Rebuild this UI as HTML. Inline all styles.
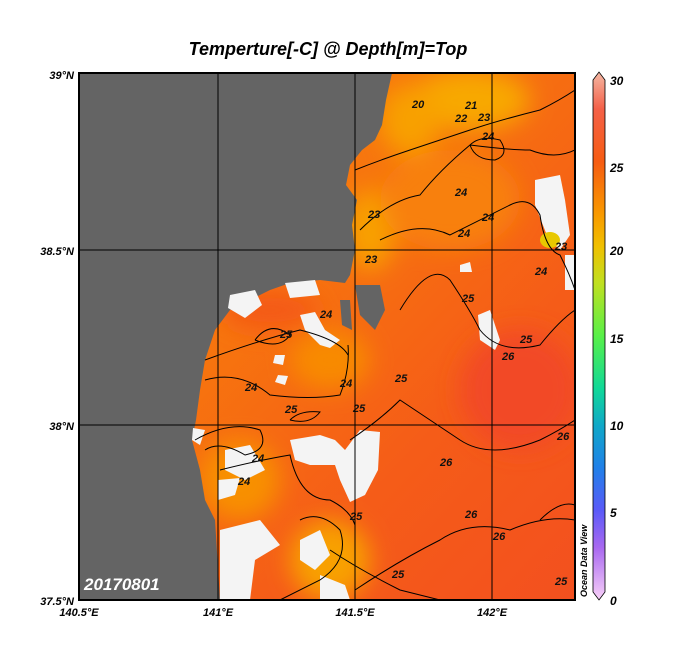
<!DOCTYPE html>
<html><head><meta charset="utf-8"><style>
body{margin:0;background:#fff;width:684px;height:660px;overflow:hidden}
svg text{font-family:"Liberation Sans",sans-serif;font-weight:bold;font-style:italic}
</style></head><body>
<svg width="684" height="660" viewBox="0 0 684 660" xmlns="http://www.w3.org/2000/svg">
<defs>
<linearGradient id="bg" x1="0" y1="0" x2="1" y2="1">
<stop offset="0" stop-color="#f98c08"/><stop offset="0.4" stop-color="#f7740e"/><stop offset="0.7" stop-color="#f55c18"/><stop offset="1" stop-color="#f3501f"/>
</linearGradient>
<linearGradient id="cb" x1="0" y1="0" x2="0" y2="1">
<stop offset="0" stop-color="#f4b8a4"/><stop offset="0.07" stop-color="#f46048"/><stop offset="0.17" stop-color="#f65c12"/><stop offset="0.27" stop-color="#f89a00"/><stop offset="0.33" stop-color="#f0c000"/><stop offset="0.4" stop-color="#c0e020"/><stop offset="0.5" stop-color="#58f048"/><stop offset="0.6" stop-color="#10d898"/><stop offset="0.67" stop-color="#10a8c8"/><stop offset="0.75" stop-color="#2080e8"/><stop offset="0.83" stop-color="#5a5af8"/><stop offset="0.9" stop-color="#a868f0"/><stop offset="1" stop-color="#f8d0f8"/>
</linearGradient>
<filter id="bl"><feGaussianBlur stdDeviation="12"/></filter>
<clipPath id="cp"><rect x="79" y="73" width="496" height="527"/></clipPath>
</defs>
<text x="328" y="55" font-size="18" text-anchor="middle">Temperture[-C] @ Depth[m]=Top</text>
<g clip-path="url(#cp)">
<rect x="79" y="73" width="496" height="527" fill="url(#bg)"/>
<g filter="url(#bl)">
<ellipse cx="470" cy="100" rx="60" ry="30" fill="#f8a800"/>
<ellipse cx="410" cy="120" rx="30" ry="35" fill="#f8a000"/>
<ellipse cx="370" cy="230" rx="25" ry="40" fill="#f8a000"/>
<ellipse cx="450" cy="200" rx="70" ry="50" fill="#f88010"/>
<ellipse cx="330" cy="360" rx="40" ry="30" fill="#f88a00"/>
<ellipse cx="240" cy="480" rx="40" ry="40" fill="#f89000"/>
<ellipse cx="330" cy="560" rx="40" ry="40" fill="#f8a000"/>
<ellipse cx="520" cy="390" rx="60" ry="60" fill="#f24a28"/>
<ellipse cx="270" cy="310" rx="50" ry="20" fill="#f45a18"/>
</g>
<path d="M79,73 L392,73 L386,100 L382,125 L375,140 L362,150 L350,165 L346,185 L357,200 L352,225 L355,250 L350,275 L345,283 L320,280 L290,283 L270,290 L250,300 L230,310 L215,330 L205,360 L200,390 L196,420 L192,440 L200,470 L205,500 L215,520 L220,600 L79,600 Z" fill="#646464"/>
<path d="M355,285 L380,285 L385,310 L375,330 L360,315 Z M340,300 L350,300 L352,330 L342,325 Z" fill="#646464"/>
<g fill="#f4f4f4">
<path d="M230,295 L255,290 L262,305 L245,318 L228,308 Z"/>
<path d="M285,283 L315,280 L320,295 L290,298 Z"/>
<path d="M300,315 L315,312 L325,330 L340,340 L330,348 L320,345 L305,330 Z"/>
<path d="M275,355 L285,355 L283,365 L273,363 Z M278,375 L288,376 L285,385 L275,382 Z"/>
<path d="M193,428 L205,430 L200,445 L192,440 Z"/>
<path d="M290,440 L320,435 L335,440 L345,450 L360,430 L380,432 L378,470 L365,495 L350,502 L340,480 L335,465 L310,465 L295,460 Z"/>
<path d="M225,450 L250,445 L265,470 L245,480 L225,470 Z"/>
<path d="M218,480 L240,478 L235,495 L218,500 Z"/>
<path d="M220,530 L260,520 L280,545 L255,560 L250,600 L220,600 Z"/>
<path d="M300,540 L320,530 L330,555 L315,570 L300,560 Z"/>
<path d="M320,575 L345,585 L350,600 L320,600 Z"/>
<path d="M460,265 L470,262 L472,272 L460,272 Z"/>
<path d="M478,315 L490,310 L500,340 L495,350 L480,340 Z"/>
<path d="M535,180 L560,175 L565,200 L570,235 L560,250 L548,238 L535,205 Z"/>
<path d="M565,255 L575,255 L575,290 L565,290 Z"/>
</g>
<ellipse cx="550" cy="240" rx="10" ry="8" fill="#e8c800"/>
<g fill="none" stroke="#000" stroke-width="1">
<path d="M355,170 Q380,160 410,150 Q440,140 470,130 Q500,120 540,110 Q560,100 575,90"/>
<path d="M360,230 Q390,200 420,195 Q440,170 470,145 Q510,150 530,150 Q555,160 575,150"/>
<path d="M470,145 Q480,135 500,140 Q510,155 495,160 Q475,160 470,145"/>
<path d="M380,240 Q420,220 450,235 Q480,220 510,205 Q530,195 540,215 Q545,250 560,255 Q570,275 575,290"/>
<path d="M400,310 Q430,260 450,280 Q470,310 480,330 Q500,355 540,345 Q560,320 575,310"/>
<path d="M350,440 Q380,420 400,400 Q430,420 460,440 Q490,460 540,440 Q560,430 575,420"/>
<path d="M355,590 Q400,560 440,540 Q470,520 510,530 Q545,515 575,520"/>
<path d="M205,380 Q240,370 270,395 Q310,400 340,395 Q350,370 348,345"/>
<path d="M205,360 Q260,340 300,330 Q340,340 348,355"/>
<path d="M290,420 Q300,410 320,412 Q310,425 290,420"/>
<path d="M195,440 Q230,420 260,430 Q270,450 245,455 Q220,440 205,450"/>
<path d="M220,470 Q260,460 290,455 Q300,500 330,500 Q350,510 355,525"/>
<path d="M300,520 Q320,510 340,530 Q350,560 320,580 Q300,590 280,600"/>
<path d="M330,550 Q360,570 400,590 Q420,595 440,600"/>
<path d="M255,340 Q270,320 290,335 Q280,350 255,340"/>
<path d="M540,520 Q560,500 575,505"/>
</g>
<g font-size="11" fill="#111">
<text x="412" y="108">20</text><text x="465" y="109">21</text><text x="455" y="122">22</text><text x="478" y="121">23</text><text x="482" y="140">24</text>
<text x="368" y="218">23</text><text x="455" y="196">24</text><text x="458" y="237">24</text><text x="482" y="221">24</text>
<text x="365" y="263">23</text><text x="462" y="302">25</text><text x="520" y="343">25</text><text x="502" y="360">26</text>
<text x="535" y="275">24</text><text x="555" y="250">23</text><text x="280" y="338">25</text><text x="245" y="391">24</text>
<text x="285" y="413">25</text><text x="340" y="387">24</text><text x="353" y="412">25</text><text x="395" y="382">25</text>
<text x="252" y="462">24</text><text x="440" y="466">26</text><text x="465" y="518">26</text><text x="493" y="540">26</text>
<text x="392" y="578">25</text><text x="350" y="520">25</text><text x="557" y="440">26</text><text x="555" y="585">25</text>
<text x="320" y="318">24</text><text x="238" y="485">24</text>
</g>
<g stroke="#000" stroke-width="1">
<line x1="218" y1="73" x2="218" y2="600"/><line x1="355" y1="73" x2="355" y2="600"/><line x1="492" y1="73" x2="492" y2="600"/>
<line x1="79" y1="250" x2="575" y2="250"/><line x1="79" y1="425" x2="575" y2="425"/>
</g>
<text x="84" y="590" font-size="17" fill="#fff">20170801</text>
</g>
<rect x="79" y="73" width="496" height="527" fill="none" stroke="#000" stroke-width="2"/>
<g font-size="11" fill="#000">
<text x="74" y="79" text-anchor="end">39°N</text>
<text x="74" y="255" text-anchor="end">38.5°N</text>
<text x="74" y="430" text-anchor="end">38°N</text>
<text x="74" y="605" text-anchor="end">37.5°N</text>
<text x="79" y="616" text-anchor="middle">140.5°E</text>
<text x="218" y="616" text-anchor="middle">141°E</text>
<text x="355" y="616" text-anchor="middle">141.5°E</text>
<text x="492" y="616" text-anchor="middle">142°E</text>
</g>
<path d="M593,80 L599,72 L605,80 L605,592 L599,600 L593,592 Z" fill="url(#cb)" stroke="#000" stroke-width="0.8"/>
<g font-size="12" fill="#000">
<text x="610" y="85">30</text><text x="610" y="172">25</text><text x="610" y="255">20</text><text x="610" y="343">15</text><text x="610" y="430">10</text><text x="610" y="517">5</text><text x="610" y="605">0</text>
</g>
<text transform="translate(587,597) rotate(-90)" font-size="9" fill="#000">Ocean Data View</text>
</svg>
</body></html>
